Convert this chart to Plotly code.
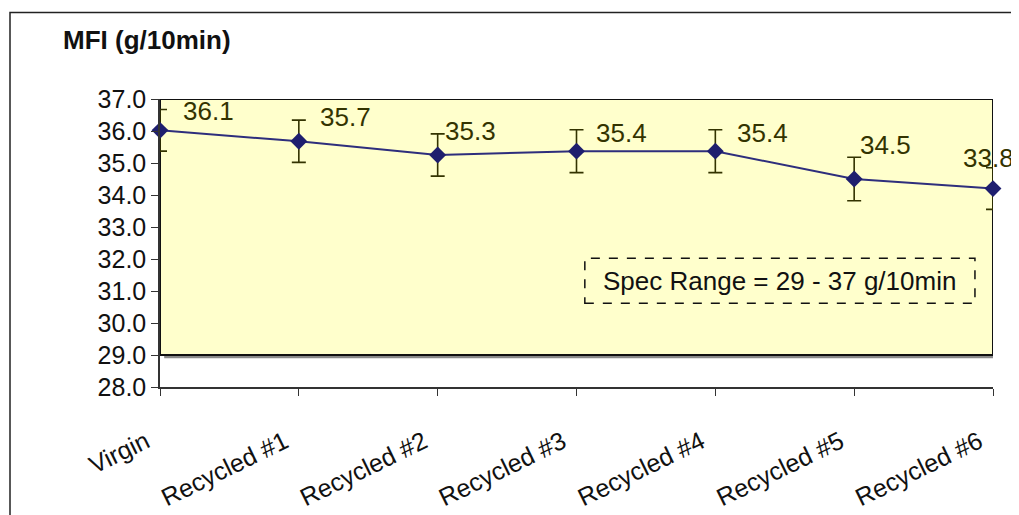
import plotly.graph_objects as go

# ---- data ----
categories = ["Virgin", "Recycled #1", "Recycled #2", "Recycled #3",
              "Recycled #4", "Recycled #5", "Recycled #6"]
mfi_values = [36.02, 35.68, 35.25, 35.37, 35.37, 34.50, 34.20]
mfi_errors = [0.65, 0.66, 0.66, 0.67, 0.67, 0.68, 0.65]
label_texts = ["36.1", "35.7", "35.3", "35.4", "35.4", "34.5", "33.8"]
spec_low, spec_high = 29, 37
y_ticks = [28.0, 29.0, 30.0, 31.0, 32.0, 33.0, 34.0, 35.0, 36.0, 37.0]

# ---- label offsets (style, pixels) ----
label_dx = [48, 47, 33, 45, 47, 31, -5]
label_dy = [19, 24, 24, 18, 18, 34, 31]

FONT = "Liberation Sans, Arial, sans-serif"
x_idx = list(range(len(categories)))

# page body has an 8px margin -> plot area in figure px: left 152, top 91, 833 x 293
L, T, PW, PH = 152, 91, 833, 293

fig = go.Figure()
fig.add_trace(go.Scatter(
    x=x_idx, y=mfi_values, mode="lines+markers",
    line=dict(color="#2E2E7C", width=2),
    marker=dict(symbol="diamond", size=13, color="#1E1E6E"),
    error_y=dict(type="data", array=mfi_errors, visible=True,
                 color="#333300", thickness=1.6, width=7),
    showlegend=False, cliponaxis=False,
))

shapes = [
    # outer chart border
    dict(type="rect", xref="paper", yref="paper",
         x0=-(L - 2) / PW, x1=1.2, y0=-0.8, y1=1 + (T - 3) / PH,
         line=dict(color="#222222", width=1.5), fillcolor="rgba(0,0,0,0)", layer="below"),
    # shadow of spec area
    dict(type="rect", xref="x", yref="y", x0=0.03, x1=6.03, y0=spec_low - 0.1, y1=spec_high - 0.1,
         line=dict(width=0), fillcolor="#8a8a8a", layer="below"),
    # spec range area
    dict(type="rect", xref="x", yref="y", x0=0, x1=6, y0=spec_low, y1=spec_high,
         line=dict(color="#111111", width=2), fillcolor="#FFFFCC", layer="below"),
    # dashed spec box
    dict(type="rect", xref="x", yref="y", x0=3.06, x1=5.87, y0=30.62, y1=32.02,
         line=dict(color="#111111", width=1.5, dash="dash"), fillcolor="rgba(0,0,0,0)"),
]

annotations = [
    dict(x=4.465, y=31.32, xref="x", yref="y", text="Spec Range = 29 - 37 g/10min",
         showarrow=False, font=dict(family=FONT, size=26, color="#111111")),
]
for i, t in enumerate(label_texts):
    annotations.append(dict(
        x=x_idx[i], y=mfi_values[i], xref="x", yref="y", text=t, showarrow=False,
        xshift=label_dx[i], yshift=label_dy[i],
        font=dict(family=FONT, size=26, color="#333300")))

fig.update_layout(
    width=1019, height=515,
    margin=dict(l=L, r=1019 - L - PW, t=T, b=515 - T - PH),
    paper_bgcolor="white", plot_bgcolor="white",
    font=dict(family=FONT, size=25, color="#111111"),
    title=dict(text="<b>MFI (g/10min)</b>", x=(63 - 8) / 1019, xanchor="left",
               y=1 - (40 - 8) / 515, yanchor="middle",
               font=dict(family=FONT, size=26, color="#111111")),
    xaxis=dict(range=[0, 6], tickmode="array", tickvals=x_idx, ticktext=categories,
               tickangle=-26, showline=True, linecolor="#333333", linewidth=1.5,
               ticks="outside", ticklen=7, tickcolor="#333333", showgrid=False,
               ticklabelstandoff=22, ticklabelshift=-14,
               zeroline=False, tickfont=dict(family=FONT, size=25, color="#111111")),
    yaxis=dict(range=[28, 37], tickmode="array", tickvals=y_ticks,
               ticktext=[f"{v:.1f}" for v in y_ticks],
               showline=True, linecolor="#333333", linewidth=1.5,
               ticks="outside", ticklen=7, tickcolor="#333333", showgrid=False,
               zeroline=False, tickfont=dict(family=FONT, size=25, color="#111111")),
    shapes=shapes, annotations=annotations,
)

fig.write_html("out.html")
